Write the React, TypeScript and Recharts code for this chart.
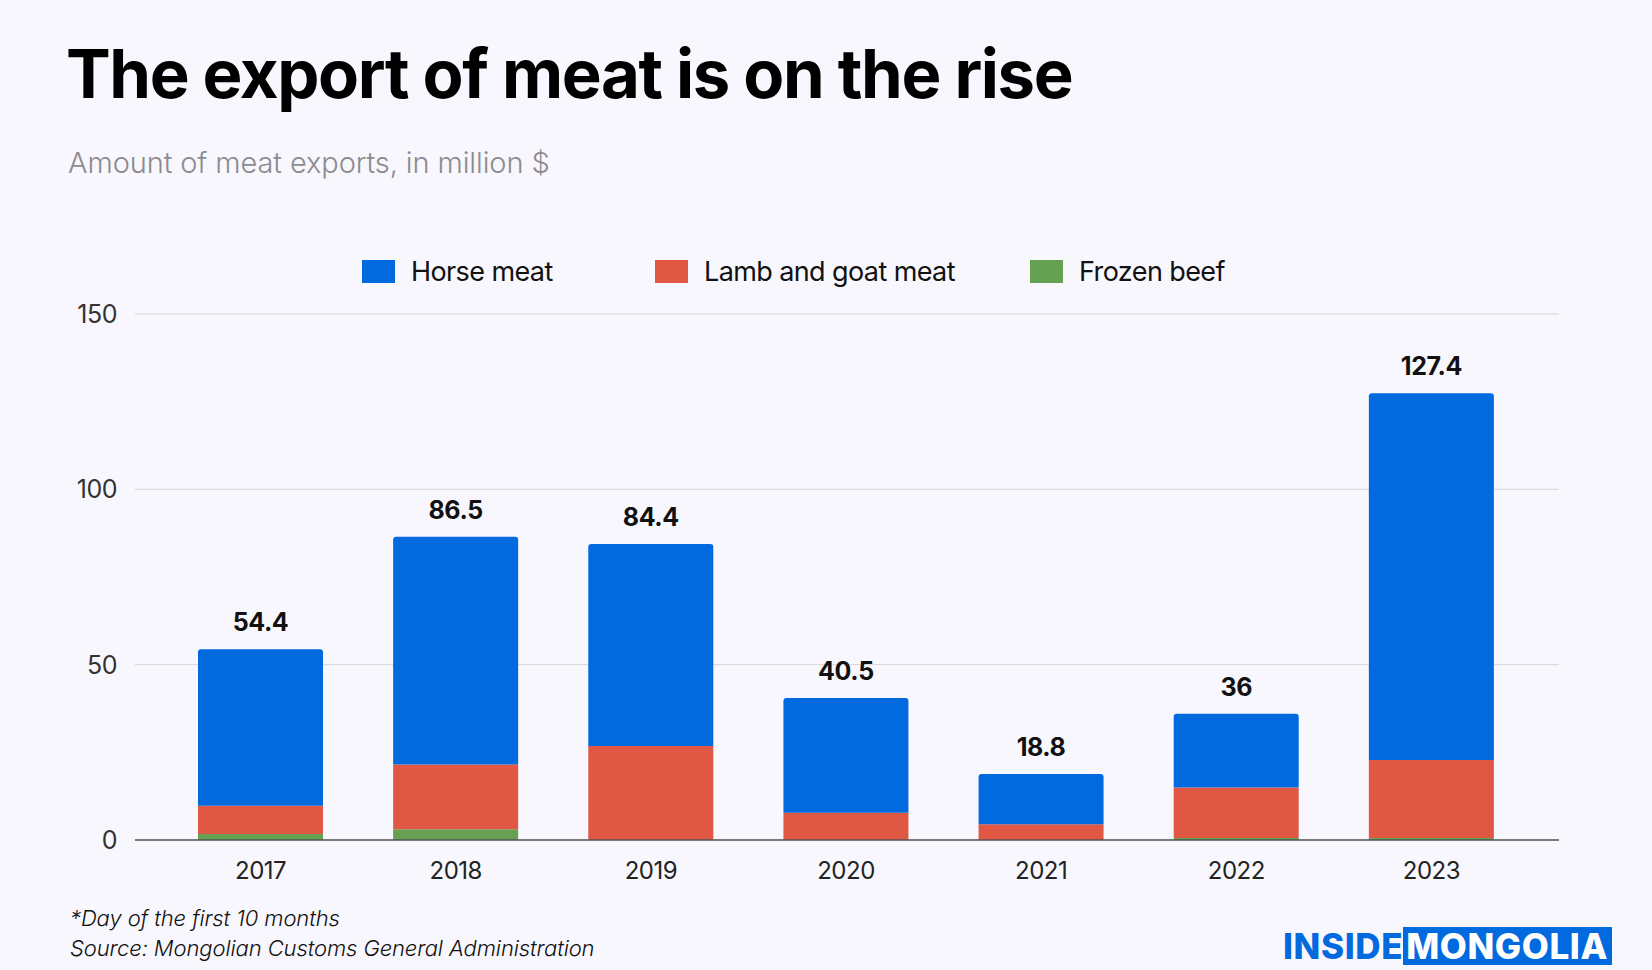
import { Bar, BarChart, CartesianGrid, LabelList, XAxis, YAxis } from "recharts";

const years = ["2017", "2018", "2019", "2020", "2021", "2022", "2023"];
const frozenBeef = [1.7, 3.1, 0, 0, 0, 0.6, 0.6];
const lambGoat = [8.1, 18.4, 26.8, 7.8, 4.5, 14.4, 22.2];
const horseMeat = [44.6, 65.0, 57.6, 32.7, 14.3, 21.0, 104.6];
const totals = ["54.4", "86.5", "84.4", "40.5", "18.8", "36", "127.4"];
const yTicks = [0, 50, 100, 150];

const BLUE = "#016ade";
const RED = "#e05744";
const GREEN = "#66a153";

const legendItems = [
  { name: "Horse meat", color: BLUE, left: 362 },
  { name: "Lamb and goat meat", color: RED, left: 655 },
  { name: "Frozen beef", color: GREEN, left: 1030 },
];

const data = years.map((year, i) => ({
  year,
  frozen: frozenBeef[i],
  lamb: lambGoat[i],
  horse: horseMeat[i],
}));

const FONT = "Inter, 'Noto Sans', sans-serif";

function TotalLabel(props: any) {
  const { x, y, width, index } = props;
  return (
    <text
      x={x + width / 2}
      y={y - 18}
      textAnchor="middle"
      fill="#111"
      fontSize={25}
      fontWeight={700}
      fontFamily={FONT}
      letterSpacing={-0.4}
    >
      {totals[index]}
    </text>
  );
}

export default function App() {
  return (
    <div
      style={{
        position: "absolute",
        left: 0,
        top: 0,
        width: 1652,
        height: 970,
        background: "#f8f7fd",
        fontFamily: FONT,
        overflow: "hidden",
      }}
    >
      <div
        style={{
          position: "absolute",
          left: 66,
          top: 34,
          fontSize: 67,
          fontWeight: 700,
          letterSpacing: -1.4,
          color: "#000",
          lineHeight: 1.2,
          whiteSpace: "nowrap",
        }}
      >
        The export of meat is on the rise
      </div>
      <div
        style={{
          position: "absolute",
          left: 68,
          top: 145,
          fontSize: 29,
          fontWeight: 300,
          letterSpacing: -0.1,
          color: "#8b8b90",
          whiteSpace: "nowrap",
        }}
      >
        Amount of meat exports, in million $
      </div>

      {/* legend */}
      {legendItems.map((item) => (
        <div
          key={item.name}
          style={{
            position: "absolute",
            left: item.left,
            top: 255,
            display: "flex",
            alignItems: "center",
            height: 32,
            whiteSpace: "nowrap",
          }}
        >
          <span style={{ width: 33, height: 23, background: item.color, display: "inline-block" }} />
          <span style={{ marginLeft: 16, fontSize: 27, letterSpacing: -0.6, color: "#111" }}>
            {item.name}
          </span>
        </div>
      ))}

      <div style={{ position: "absolute", left: 0, top: 0 }}>
        <BarChart
          width={1652}
          height={970}
          data={data}
          margin={{ top: 314, right: 93, bottom: 100, left: 75 }}
          barSize={125}
        >
          <CartesianGrid vertical={false} stroke="#d6d6da" strokeWidth={1} />
          <XAxis
            dataKey="year"
            axisLine={{ stroke: "#555", strokeWidth: 1.5 }}
            tickLine={false}
            tick={{ fill: "#222", fontSize: 24, fontFamily: FONT, letterSpacing: -0.5 }}
            tickMargin={16}
            padding={{ left: 28, right: 30 }}
          />
          <YAxis
            width={60}
            domain={[0, 150]}
            ticks={yTicks}
            axisLine={false}
            tickLine={false}
            tick={{ fill: "#333", fontSize: 25, fontFamily: FONT, letterSpacing: -0.5 }}
            tickMargin={12}
          />
          <Bar dataKey="frozen" stackId="a" fill={GREEN} isAnimationActive={false} />
          <Bar dataKey="lamb" stackId="a" fill={RED} isAnimationActive={false} />
          <Bar dataKey="horse" stackId="a" fill={BLUE} radius={[3, 3, 0, 0]} isAnimationActive={false}>
            <LabelList dataKey="horse" content={TotalLabel} />
          </Bar>
        </BarChart>
      </div>

      <div
        style={{
          position: "absolute",
          left: 70,
          top: 903,
          fontSize: 22,
          fontStyle: "italic",
          fontWeight: 300,
          letterSpacing: -0.1,
          color: "#111",
          lineHeight: "30px",
          whiteSpace: "nowrap",
        }}
      >
        *Day of the first 10 months
        <br />
        Source: Mongolian Customs General Administration
      </div>

      <div
        style={{
          position: "absolute",
          left: 1283,
          top: 927,
          height: 38,
          display: "flex",
          alignItems: "stretch",
          fontSize: 35,
          fontWeight: 800,
          letterSpacing: 0.6,
          whiteSpace: "nowrap",
        }}
      >
        <span style={{ color: BLUE, lineHeight: "38px" }}>INSIDE</span>
        <span style={{ color: "#fff", background: BLUE, lineHeight: "38px", padding: "0 4px 0 3px" }}>
          MONGOLIA
        </span>
      </div>
    </div>
  );
}
